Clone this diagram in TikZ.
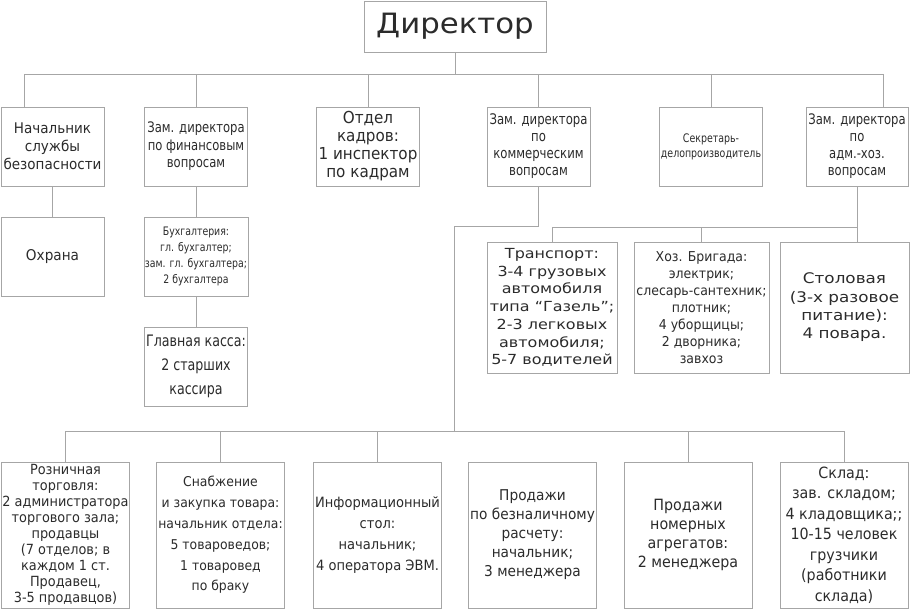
\documentclass[tikz,border=0pt]{standalone}
\usepackage{fontspec}
\setmainfont{DejaVu Sans}
\newfontfamily\orgfont{DejaVu Sans}[FakeStretch=0.92]
\newfontfamily\orgnarrow{DejaVu Sans}[FakeStretch=0.8]
\newfontfamily\orgwide{DejaVu Sans}[FakeStretch=1.15]
\newfontfamily\orgtitle{DejaVu Sans}[FakeStretch=1.1]
\usetikzlibrary{positioning}
\definecolor{orgline}{HTML}{A6A6A6}
\definecolor{orgtext}{HTML}{2B2B2B}

\begin{document}
\begin{tikzpicture}[x=1pt, y=-1pt,
  unit/.style={draw=orgline, text=orgtext, align=center, inner sep=1pt, font=\orgfont\fontsize{13.5}{17.5}\selectfont},
  upper/.style={unit, minimum width=103pt, minimum height=79pt},
  lower/.style={unit, minimum width=128pt, minimum height=146pt, font=\orgfont\fontsize{15.5}{20}\selectfont},
  link/.style={draw=orgline, line width=0.8pt}
]
\useasboundingbox (0,0) rectangle (910,610);

% top
\node[unit, minimum width=182pt, minimum height=51pt, font=\orgtitle\fontsize{28}{30}\selectfont] (dir) at (455,26.5) {Директор};

% first level
\node[upper, font=\orgfont\fontsize{14.7}{18}\selectfont] (secur) at (52.5,146.5) {Начальник\\службы\\безопасности};
\node[upper, font=\orgnarrow\fontsize{14.5}{17.5}\selectfont] (fin) at (196,146.5) {Зам. директора\\по финансовым\\вопросам};
\node[upper, font=\orgfont\fontsize{16.5}{18}\selectfont] (kadr) at (368,146.5) {Отдел\\кадров:\\1 инспектор\\по кадрам};
\node[upper, font=\orgnarrow\fontsize{14.6}{17}\selectfont] (comm) at (538.5,146.5) {Зам. директора\\по\\коммерческим\\вопросам};
\node[upper, font=\orgnarrow\fontsize{11.8}{15}\selectfont] (secr) at (711,146.5) {Секретарь-\\делопроизводитель};
\node[upper, minimum width=102pt, font=\orgnarrow\fontsize{14.5}{17}\selectfont] (adm) at (857,146.5) {Зам. директора\\по\\адм.-хоз.\\вопросам};

% second level
\node[upper, font=\orgfont\fontsize{14.8}{18}\selectfont] (ohr) at (52.5,256.5) {Охрана};
\node[upper, font=\orgnarrow\fontsize{11.7}{16}\selectfont] (buh) at (196,256.5) {Бухгалтерия:\\гл. бухгалтер;\\зам. гл. бухгалтера;\\2 бухгалтера};
\node[upper, font=\orgnarrow\fontsize{15.8}{24}\selectfont] (kassa) at (196,366.5) {Главная касса:\\2 старших\\кассира};
\node[unit, minimum width=130pt, minimum height=131pt, font=\orgwide\fontsize{13.9}{17.7}\selectfont] (trans) at (552,307.5) {Транспорт:\\3-4 грузовых\\автомобиля\\типа “Газель”;\\2-3 легковых\\автомобиля;\\5-7 водителей};
\node[unit, minimum width=135pt, minimum height=131pt, font=\orgfont\fontsize{13.6}{17}\selectfont] (hoz) at (701.5,307.5) {Хоз. Бригада:\\электрик;\\слесарь-сантехник;\\плотник;\\4 уборщицы;\\2 дворника;\\завхоз};
\node[unit, minimum width=129pt, minimum height=131pt, font=\orgwide\fontsize{14.6}{18.3}\selectfont] (stol) at (844.5,307.5) {Столовая\\(3-х разовое\\питание):\\4 повара.};

% bottom level
\node[lower, minimum width=127pt, font=\orgfont\fontsize{14}{16}\selectfont] (retail) at (65.5,535) {Розничная\\торговля:\\2 администратора\\торгового зала;\\продавцы\\(7 отделов; в\\каждом 1 ст.\\Продавец,\\3-5 продавцов)};
\node[lower, font=\orgfont\fontsize{13.5}{20.8}\selectfont] (snab) at (220.5,535) {Снабжение\\и закупка товара:\\начальник отдела:\\5 товароведов;\\1 товаровед\\по браку};
\node[lower, font=\orgfont\fontsize{14.2}{21}\selectfont] (info) at (377.5,535) {Информационный\\стол:\\начальник;\\4 оператора ЭВМ.};
\node[lower, font=\orgfont\fontsize{14.9}{19}\selectfont] (beznal) at (532.5,535) {Продажи\\по безналичному\\расчету:\\начальник;\\3 менеджера};
\node[lower, font=\orgfont\fontsize{15.5}{19}\selectfont] (nomer) at (688,535) {Продажи\\номерных\\агрегатов:\\2 менеджера};
\node[lower, font=\orgfont\fontsize{15.5}{20.5}\selectfont] (sklad) at (844,535) {Склад:\\зав. складом;\\4 кладовщика;;\\10-15 человек\\грузчики\\(работники\\склада)};

% buses
\coordinate (topL) at (24,74);
\coordinate (topR) at (883,74);
\coordinate (mid) at (454,226);
\coordinate (hbus) at (0,227);
\coordinate (lbus) at (0,431);

\draw[link] (dir.south) -- (dir.south |- topL);
\draw[link] (topL) -- (topR);
\draw[link] (topL) -- (topL |- secur.north);
\draw[link] (fin.north |- topL) -- (fin.north);
\draw[link] (kadr.north |- topL) -- (kadr.north);
\draw[link] (comm.north |- topL) -- (comm.north);
\draw[link] (secr.north |- topL) -- (secr.north);
\draw[link] (topR) -- (topR |- adm.north);

\draw[link] (secur.south) -- (ohr.north);
\draw[link] (fin.south) -- (buh.north);
\draw[link] (buh.south) -- (kassa.north);

\draw[link] (comm.south) |- (mid) -- (mid |- lbus);
\draw[link] (adm.south) -- (adm.south |- stol.north);
\draw[link] (adm.south |- hbus) -| (trans.north);
\draw[link] (hoz.north |- hbus) -- (hoz.north);

\draw[link] (retail.north) |- (sklad.north |- lbus) -- (sklad.north);
\draw[link] (snab.north |- lbus) -- (snab.north);
\draw[link] (info.north |- lbus) -- (info.north);
\draw[link] (nomer.north |- lbus) -- (nomer.north);
\end{tikzpicture}
\end{document}
